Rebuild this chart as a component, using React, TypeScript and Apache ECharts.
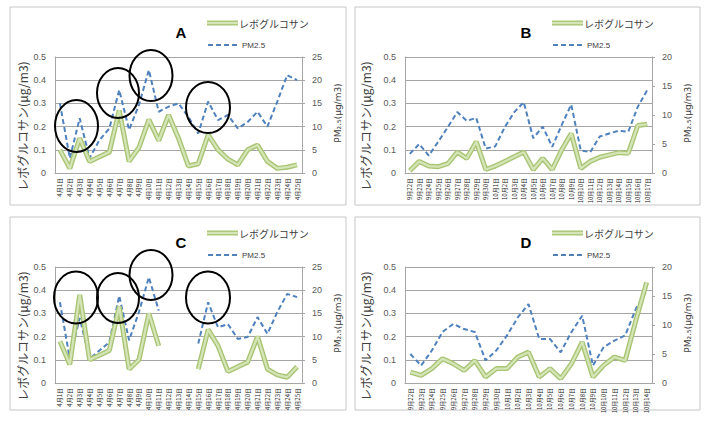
import React, { useEffect, useRef } from "react";
import * as echarts from "echarts";

// ---- Data ----
const catsAC = [
  "4月1日", "4月2日", "4月3日", "4月4日", "4月5日", "4月6日", "4月7日", "4月8日", "4月9日", "4月10日",
  "4月11日", "4月12日", "4月13日", "4月14日", "4月15日", "4月16日", "4月17日", "4月18日", "4月19日", "4月20日",
  "4月21日", "4月22日", "4月23日", "4月24日", "4月25日",
];
const catsB = [
  "9月22日", "9月23日", "9月24日", "9月25日", "9月26日", "9月27日", "9月28日", "9月29日", "9月30日",
  "10月1日", "10月2日", "10月3日", "10月4日", "10月5日", "10月6日", "10月7日", "10月8日", "10月9日",
  "10月10日", "10月11日", "10月12日", "10月13日", "10月14日", "10月15日", "10月16日", "10月17日",
];
const catsD = [
  "9月22日", "9月23日", "9月24日", "9月25日", "9月26日", "9月27日", "9月28日", "9月29日", "9月30日",
  "10月1日", "10月2日", "10月3日", "10月4日", "10月5日", "10月6日", "10月7日", "10月8日", "10月9日",
  "10月10日", "10月11日", "10月12日", "10月13日", "10月14日",
];

const levoA = [0.1, 0.02, 0.15, 0.05, 0.07, 0.09, 0.27, 0.05, 0.11, 0.23, 0.14, 0.25, 0.15, 0.03, 0.04, 0.165, 0.1, 0.06, 0.035, 0.1, 0.12, 0.05, 0.02, 0.025, 0.035];
const pmA = [15, 3.2, 11.8, 3.2, 7.1, 9.6, 17.9, 9.3, 14.7, 22.2, 13.2, 14.3, 15, 12.1, 8.5, 15.4, 11.4, 12.5, 9.6, 11, 13.2, 10, 15.4, 21.1, 20];

const levoB = [0.01, 0.05, 0.03, 0.027, 0.04, 0.09, 0.063, 0.135, 0.015, 0.03, 0.05, 0.07, 0.09, 0.015, 0.063, 0.015, 0.1, 0.17, 0.02, 0.05, 0.068, 0.078, 0.088, 0.085, 0.205, 0.21];
const pmB = [3.3, 5, 3, 5.4, 7.9, 10.5, 9, 9.5, 4.2, 4.6, 7.9, 10.5, 12.2, 6, 8, 4.5, 8.3, 11.8, 3.9, 3.6, 6.3, 6.8, 7.3, 7.1, 11.4, 14.3];

const levoC = [0.18, 0.08, 0.38, 0.1, 0.12, 0.14, 0.33, 0.06, 0.1, 0.3, 0.16, null, null, null, 0.06, 0.23, 0.16, 0.05, 0.07, 0.09, 0.2, 0.06, 0.035, 0.025, 0.07];
const pmC = [17.4, 5.2, 14, 5.2, 7, 8.8, 18.8, 9.2, 15.3, 22.8, 15.6, null, null, null, 8.5, 17.4, 12, 12.7, 9.5, 9.9, 14.2, 10.6, 15.3, 19.2, 18.5];

const levoD = [0.047, 0.033, 0.062, 0.105, 0.083, 0.054, 0.097, 0.026, 0.062, 0.062, 0.112, 0.133, 0.026, 0.062, 0.019, 0.083, 0.176, 0.026, 0.076, 0.112, 0.097, 0.27, 0.434];
const pmD = [5, 3, 5.6, 8.8, 10.2, 9.3, 8.8, 3.9, 5.6, 8.2, 11.3, 13.6, 7.6, 7.6, 5.3, 8.8, 11.6, 3, 6.2, 7.3, 8.2, 12.8, 15.9];

const leftTicks = { min: 0, max: 0.5, interval: 0.1 };
const rightMaxAC = 25;
const rightMaxBD = 20;

const LEVO = "レボグルコサン";
const PM = "PM2.5";
const LEFT_NAME = "レボグルコサン(μg/m3)";
const RIGHT_NAME = "PM₂.₅(μg/m3)";

const panels = [
  { key: "A", ox: 0, oy: 0, cats: catsAC, levo: levoA, pm: pmA, rmax: rightMaxAC },
  { key: "B", ox: 345, oy: 0, cats: catsB, levo: levoB, pm: pmB, rmax: rightMaxBD },
  { key: "C", ox: 0, oy: 210, cats: catsAC, levo: levoC, pm: pmC, rmax: rightMaxAC },
  { key: "D", ox: 345, oy: 210, cats: catsD, levo: levoD, pm: pmD, rmax: rightMaxBD },
];

const circlesA = [
  { cx: 76.5, cy: 126, rx: 21.5, ry: 26 },
  { cx: 118, cy: 93, rx: 21, ry: 25 },
  { cx: 151, cy: 75.5, rx: 21.5, ry: 25.5 },
  { cx: 208, cy: 107.5, rx: 22, ry: 25.5 },
];
const circlesC = [
  { cx: 76, cy: 297.5, rx: 22, ry: 26 },
  { cx: 118, cy: 298, rx: 21, ry: 25 },
  { cx: 151, cy: 275, rx: 21.5, ry: 25 },
  { cx: 208, cy: 297.5, rx: 22, ry: 26 },
];

const GREEN_OUT = "#a9c574";
const GREEN_IN = "#d6e5b8";
const BLUE = "#4f81bd";
const GRID = "#a6a6a6";
const TXT = "#404040";
const JP = "'Noto Sans CJK JP', 'Liberation Sans', sans-serif";

export default function App() {
  const ref = useRef<HTMLDivElement>(null);
  useEffect(() => {
    if (!ref.current) return;
    const chart = echarts.init(ref.current, undefined, { renderer: "svg" });

    const grid: any[] = [];
    const xAxis: any[] = [];
    const yAxis: any[] = [];
    const series: any[] = [];
    const graphic: any[] = [];

    panels.forEach((p, i) => {
      const right = p.ox !== 0;
      const left = right ? 405 : 55;
      const top = p.oy === 0 ? 57 : 267;
      grid.push({ left, top, width: 247, height: 116, containLabel: false });
      xAxis.push({
        type: "category",
        gridIndex: i,
        data: p.cats,
        boundaryGap: true,
        axisLine: { lineStyle: { color: GRID } },
        axisTick: { show: false },
        axisLabel: { interval: 0, rotate: 90, fontSize: 6, color: "#222", margin: 5, fontFamily: JP },
      });
      yAxis.push({
        type: "value",
        gridIndex: i,
        position: "left",
        ...leftTicks,
        axisLine: { show: true, lineStyle: { color: GRID } },
        axisTick: { show: false },
        axisLabel: { fontSize: 9, color: "#595959", margin: 9, fontFamily: "'Liberation Sans', sans-serif" },
        splitLine: { show: true, lineStyle: { color: GRID, width: 1 } },
      });
      yAxis.push({
        type: "value",
        gridIndex: i,
        position: "right",
        min: 0,
        max: p.rmax,
        interval: 5,
        axisLine: { show: true, lineStyle: { color: GRID } },
        axisTick: { show: true, length: 3, lineStyle: { color: GRID } },
        axisLabel: { fontSize: 9, color: "#595959", margin: 10, fontFamily: "'Liberation Sans', sans-serif" },
        splitLine: { show: false },
      });
      series.push({
        name: PM,
        type: "line",
        xAxisIndex: i,
        yAxisIndex: i * 2 + 1,
        data: p.pm,
        symbol: "none",
        lineStyle: { color: BLUE, width: 2, type: [5, 3] },
        z: 2,
      });
      series.push({
        name: LEVO,
        type: "line",
        xAxisIndex: i,
        yAxisIndex: i * 2,
        data: p.levo,
        symbol: "none",
        lineStyle: { color: GREEN_OUT, width: 5 },
        z: 3,
      });
      series.push({
        name: LEVO + " ",
        type: "line",
        xAxisIndex: i,
        yAxisIndex: i * 2,
        data: p.levo,
        symbol: "none",
        lineStyle: { color: GREEN_IN, width: 2.2 },
        z: 4,
      });

      const ox = p.ox;
      const oy = p.oy;
      // panel frame
      graphic.push({
        type: "rect",
        shape: { x: right ? 355 : 10, y: oy === 0 ? 7 : 217, width: right ? 345 : 336, height: oy === 0 ? 198 : 193 },
        style: { fill: "none", stroke: "#c6c6c6", lineWidth: 1 },
        silent: true,
      });
      // title
      graphic.push({
        type: "text",
        x: ox + 181,
        y: oy + 32,
        style: { text: p.key, font: "bold 15px 'Liberation Sans', sans-serif", fill: "#000", align: "center", verticalAlign: "middle" },
      });
      // legend
      graphic.push({ type: "line", shape: { x1: ox + 207, y1: oy + 23, x2: ox + 238, y2: oy + 23 }, style: { stroke: GREEN_OUT, lineWidth: 5 } });
      graphic.push({ type: "line", shape: { x1: ox + 207, y1: oy + 23, x2: ox + 238, y2: oy + 23 }, style: { stroke: GREEN_IN, lineWidth: 2.2 } });
      graphic.push({
        type: "text",
        x: ox + 239,
        y: oy + 23,
        style: { text: LEVO, font: `10px ${JP}`, fill: TXT, align: "left", verticalAlign: "middle" },
      });
      graphic.push({
        type: "line",
        shape: { x1: ox + 208, y1: oy + 45, x2: ox + 237, y2: oy + 45 },
        style: { stroke: BLUE, lineWidth: 2, lineDash: [5, 3] },
      });
      graphic.push({
        type: "text",
        x: ox + 242,
        y: oy + 45,
        style: { text: PM, font: "8px 'Liberation Sans', sans-serif", fill: TXT, align: "left", verticalAlign: "middle" },
      });
      // axis names
      graphic.push({
        type: "text",
        x: right ? 365 : 22,
        y: oy + 126,
        rotation: Math.PI / 2,
        style: { text: LEFT_NAME, font: `12px ${JP}`, fill: TXT, align: "center", verticalAlign: "middle" },
      });
      graphic.push({
        type: "text",
        x: left + 247 + 36,
        y: oy + 113,
        rotation: Math.PI / 2,
        style: { text: RIGHT_NAME, font: `9px 'DejaVu Sans', sans-serif`, fill: TXT, align: "center", verticalAlign: "middle" },
      });
    });

    [...circlesA, ...circlesC].forEach((c) => {
      graphic.push({
        type: "ellipse",
        shape: c,
        style: { fill: "none", stroke: "#000", lineWidth: 2 },
        z: 100,
      });
    });

    chart.setOption({
      animation: false,
      backgroundColor: "#fff",
      grid,
      xAxis,
      yAxis,
      series,
      graphic,
    });
    return () => chart.dispose();
  }, []);
  return <div ref={ref} style={{ position: "absolute", left: 0, top: 0, width: 707, height: 421 }} />;
}
